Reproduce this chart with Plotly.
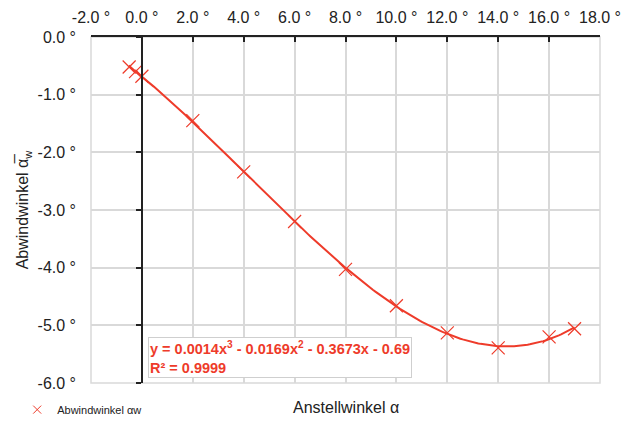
import numpy as np
import plotly.graph_objects as go

# Data
anstellwinkel = [-0.5, -0.25, 0.0, 2.0, 4.0, 6.0, 8.0, 10.0, 12.0, 14.0, 16.0, 17.0]
abwindwinkel = [-0.52, -0.60, -0.68, -1.45, -2.34, -3.20, -4.03, -4.66, -5.13, -5.39, -5.20, -5.06]
x_ticks = [-2, 0, 2, 4, 6, 8, 10, 12, 14, 16, 18]
y_ticks = [0, -1, -2, -3, -4, -5, -6]
trend_text = "<b>y = 0.0014x<sup>3</sup> - 0.0169x<sup>2</sup> - 0.3673x - 0.69<br>R² = 0.9999</b>"

RED = "#EE3B2A"
GRID = "#d9d9d9"
FONT = "Liberation Sans, Arial, sans-serif"

coef = np.polyfit(anstellwinkel, abwindwinkel, 3)
xf = np.linspace(min(anstellwinkel), max(anstellwinkel), 200)
yf = np.polyval(coef, xf)

fig = go.Figure()
fig.add_trace(go.Scatter(x=xf, y=yf, mode="lines", line=dict(color=RED, width=2),
                         showlegend=False, hoverinfo="skip"))
fig.add_trace(go.Scatter(x=anstellwinkel, y=abwindwinkel, mode="markers",
                         name="Abwindwinkel αw", showlegend=False,
                         marker=dict(symbol="x-thin", size=13, line=dict(color=RED, width=1.2), color=RED)))
# legend entry with a smaller symbol
fig.add_trace(go.Scatter(x=[None], y=[None], mode="markers", name="Abwindwinkel αw",
                         marker=dict(symbol="x-thin", size=8, line=dict(color=RED, width=1), color=RED)))
# invisible trace for secondary y axis drawn at x = 0
fig.add_trace(go.Scatter(x=[None], y=[None], yaxis="y2", showlegend=False, hoverinfo="skip"))

xr = [-2, 18]
fig.update_layout(
    width=631, height=421,
    margin=dict(l=91, r=31, t=37, b=38, autoexpand=False),
    paper_bgcolor="white", plot_bgcolor="white",
    font=dict(family=FONT, size=16, color="#222"),
    xaxis=dict(range=xr, side="top", tickvals=x_ticks,
               ticktext=[f"{v:.1f} °" for v in x_ticks],
               showgrid=True, gridcolor=GRID, gridwidth=1.5,
               showline=True, linecolor="#222", linewidth=2,
               ticks="inside", ticklen=5, tickcolor="#222", tickwidth=1.5,
               zeroline=False, tickfont=dict(size=16), automargin=False,
               ticklabelstandoff=6),
    yaxis=dict(range=[-6, 0], tickvals=y_ticks,
               ticktext=[f"{v:.1f} °" for v in y_ticks],
               showgrid=True, gridcolor=GRID, gridwidth=1.5,
               showline=False, ticks="", zeroline=False,
               tickfont=dict(size=16), automargin=False, ticklabelstandoff=14,
               title=dict(text="Abwindwinkel α̅<sub>w</sub>", font=dict(size=16), standoff=4)),
    yaxis2=dict(range=[-6, 0], overlaying="y", anchor="free",
                position=(0 - xr[0]) / (xr[1] - xr[0]),
                tickvals=y_ticks, showticklabels=False, showgrid=False,
                showline=True, linecolor="#222", linewidth=2,
                ticks="outside", ticklen=5, tickcolor="#222", tickwidth=1.5,
                zeroline=False, automargin=False),
    legend=dict(x=-0.145, y=-0.035, xanchor="left", yanchor="top",
                font=dict(size=11), bgcolor="rgba(0,0,0,0)", itemwidth=30),
    showlegend=True,
)
# border lines (gray) on left/right/bottom
fig.add_shape(type="rect", xref="paper", yref="paper", x0=0, x1=1, y0=0, y1=1,
              line=dict(color=GRID, width=1.5), layer="below")

fig.add_annotation(text="Anstellwinkel α", xref="paper", yref="paper",
                   x=0.5, y=-0.04, xanchor="center", yanchor="top",
                   showarrow=False, font=dict(size=16))
fig.add_annotation(text=trend_text, xref="x", yref="y", x=0.24, y=-5.2,
                   xanchor="left", yanchor="top", align="left", showarrow=False,
                   font=dict(size=14.5, color=RED, family=FONT),
                   bgcolor="white", bordercolor="#cfcfcf", borderwidth=1, borderpad=1)

fig.write_html("out.html", post_script="document.body.style.margin='0';",
               config={"displayModeBar": False})
